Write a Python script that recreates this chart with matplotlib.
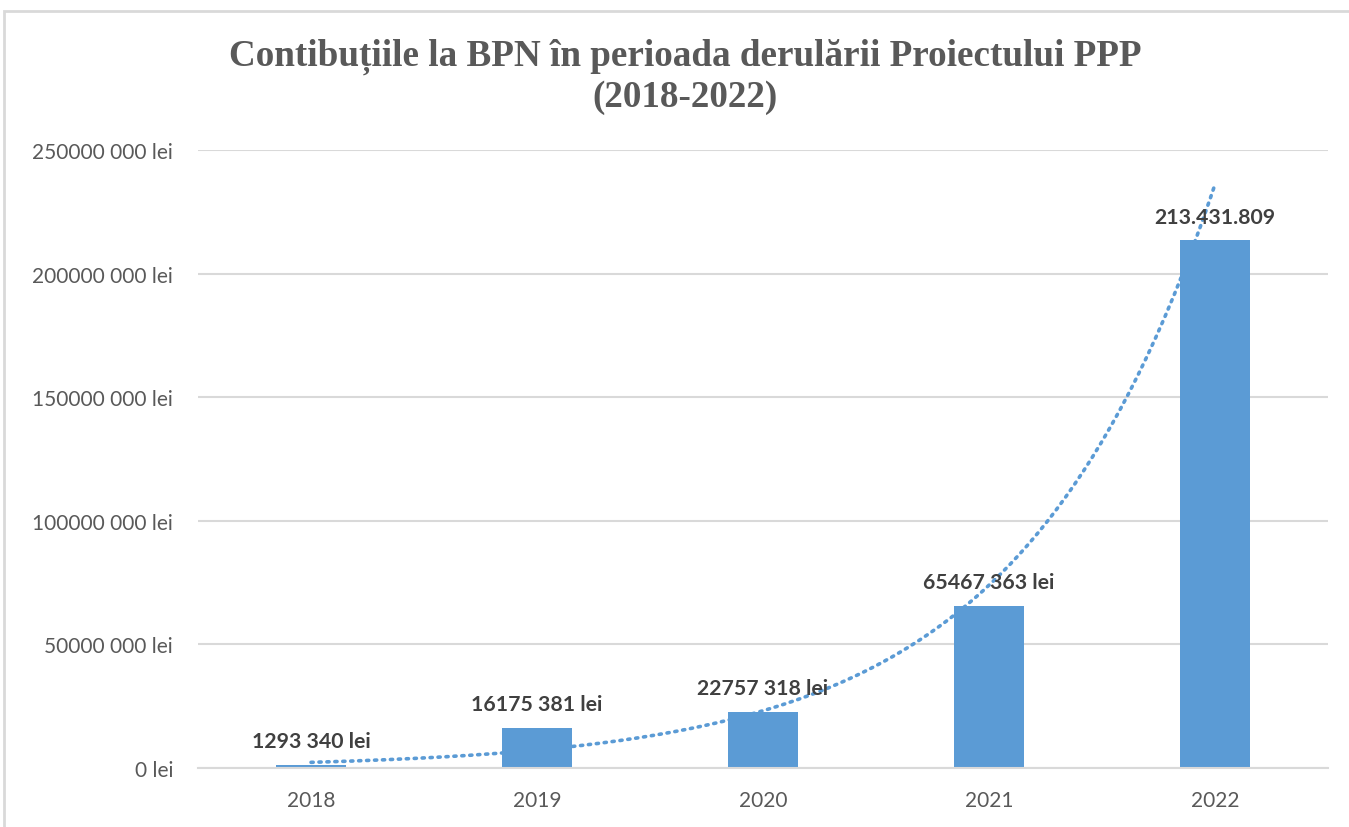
import numpy as np
import matplotlib.pyplot as plt
from matplotlib.patches import Rectangle

years = ['2018', '2019', '2020', '2021', '2022']
values = [1293340, 16175381, 22757318, 65467363, 213431809]
value_labels = ['1293 340 lei', '16175 381 lei', '22757 318 lei', '65467 363 lei', '213.431.809']
yticks = [0, 50000000, 100000000, 150000000, 200000000, 250000000]
ytick_labels = ['0 lei', '50000 000 lei', '100000 000 lei', '150000 000 lei', '200000 000 lei', '250000 000 lei']

blue = '#5B9BD5'
grey = '#595959'

fig = plt.figure(figsize=(13.49, 8.28), dpi=100)
ax = fig.add_axes([0.1468, 0.0713, 0.8376, 0.7463])

x = np.arange(len(years))
ax.bar(x, values, width=0.31, color=blue, zorder=2)

# exponential trendline (like Excel)
b, a = np.polyfit(x + 1, np.log(values), 1)
xs = np.linspace(0, len(years) - 1, 200)
ax.plot(xs, np.exp(a + b * (xs + 1)), color=blue, lw=2.6, linestyle=(0, (0.6, 1.6)),
        dash_capstyle='round', zorder=3)

for xi, v, lab in zip(x, values, value_labels):
    ax.annotate(lab, (xi, v), xytext=(0, 10), textcoords='offset points', ha='center', va='bottom',
                fontsize=15.3, fontweight='bold', color='#404040', family='Lato')

ax.set_xlim(-0.5, len(years) - 0.5)
ax.set_ylim(0, 250000000)
ax.set_xticks(x)
ax.set_xticklabels(years)
ax.set_yticks(yticks)
ax.set_yticklabels(ytick_labels)
ax.tick_params(length=0, labelsize=15, labelcolor=grey)
ax.tick_params(axis='y', pad=18)
ax.tick_params(axis='x', pad=16)
for lab in ax.get_xticklabels() + ax.get_yticklabels():
    lab.set_family('Lato')
ax.grid(axis='y', color='#d9d9d9', lw=1.5, zorder=0)
for s in ['top', 'right', 'left']:
    ax.spines[s].set_visible(False)
ax.spines['bottom'].set_color('#d9d9d9')
ax.spines['bottom'].set_linewidth(1.5)

fig.text(0.508, 0.907, 'Contibuțiile la BPN în perioada derulării Proiectului PPP\n(2018-2022)',
         ha='center', va='center', fontsize=26.7, fontweight='bold', color=grey,
         family='Liberation Serif', linespacing=1.2)

fig.patches.append(Rectangle((4 / 1349, -0.1), 1.2, 1.1 - 12 / 828, transform=fig.transFigure,
                             fill=False, edgecolor='#d9d9d9', lw=2))

fig.savefig('out.png', dpi=100)
